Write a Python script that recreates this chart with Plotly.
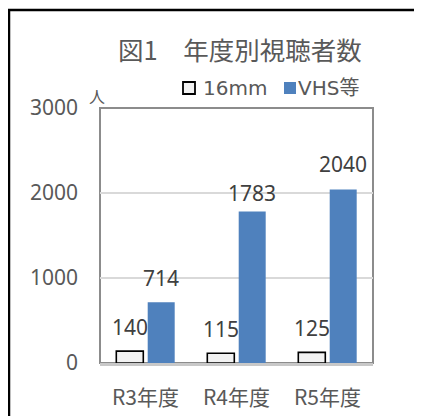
import plotly.graph_objects as go

categories = ["R3年度", "R4年度", "R5年度"]
series_names = ["16mm", "VHS等"]
values_16mm = [140, 115, 125]
values_vhs = [714, 1783, 2040]
y_ticks = [0, 1000, 2000, 3000]
title_text = "図1　年度別視聴者数"
unit_text = "人"

# layout (pixels, in screen coordinates of the 422x416 window)
OFF = 8  # default page body margin
W, H = 422 - OFF, 416 - OFF
PLOT_L, PLOT_R, PLOT_T, PLOT_B = 100, 373, 108, 363
ML, MT = PLOT_L - OFF, PLOT_T - OFF
MR, MB = 422 - PLOT_R, 416 - PLOT_B
PW, PH = PLOT_R - PLOT_L, PLOT_B - PLOT_T
BARGAP, GROUPGAP = 0.31, 0.14
GREY_TXT = "#595959"
NUM_FONT = "Noto Sans, Noto Sans CJK JP, sans-serif"
CJK_FONT = "Noto Sans CJK JP, Noto Sans, sans-serif"
LEG_FONT = "DejaVu Sans, Noto Sans CJK JP, sans-serif"
colors = ["#f2f2f2", "#4f81bd"]
line_colors = ["#000000", "#4f81bd"]
line_widths = [1.6, 0]
label_yshift = [[24, 24, 24], [24, 18, 26]]


def px_x(x):
    return (x - PLOT_L) / PW


def px_y(y):
    return (PLOT_B - y) / PH


fig = go.Figure()
all_vals = [values_16mm, values_vhs]
for i, (name, vals) in enumerate(zip(series_names, all_vals)):
    fig.add_trace(go.Bar(
        x=categories, y=vals, name=name,
        marker=dict(color=colors[i], line=dict(color=line_colors[i], width=line_widths[i])),
        showlegend=False, hoverinfo="skip",
    ))

# data labels
cat_px = PW / len(categories)
slot_px = cat_px * (1 - BARGAP) / len(series_names)
for i, vals in enumerate(all_vals):
    offset = (i - (len(series_names) - 1) / 2) * slot_px
    for j, (c, v) in enumerate(zip(categories, vals)):
        fig.add_annotation(
            x=c, y=v, xref="x", yref="y", text=str(v), showarrow=False,
            xshift=offset, yshift=label_yshift[i][j], xanchor="center", yanchor="middle",
            font=dict(family=NUM_FONT, size=21, color="#404040"),
        )

# legend (manual)
leg_items = [(183, 201), (284, 296)]
for i, (sx, tx) in enumerate(leg_items):
    fig.add_shape(type="rect", xref="paper", yref="paper",
                  x0=px_x(sx), x1=px_x(sx + 12), y0=px_y(94), y1=px_y(82),
                  fillcolor=colors[i], line=dict(color=line_colors[i], width=1.8 if i == 0 else 0))
    fig.add_annotation(x=px_x(tx), y=px_y(88), xref="paper", yref="paper",
                       text=series_names[i], showarrow=False, xanchor="left", yanchor="middle",
                       font=dict(family=LEG_FONT, size=20, color=GREY_TXT))

# unit label
fig.add_annotation(x=px_x(97), y=px_y(96), xref="paper", yref="paper", text=unit_text,
                   showarrow=False, xanchor="center", yanchor="middle",
                   font=dict(family=CJK_FONT, size=16, color=GREY_TXT))

# title
fig.add_annotation(x=px_x(240), y=px_y(49), xref="paper", yref="paper", text=title_text,
                   showarrow=False, xanchor="center", yanchor="middle",
                   font=dict(family=CJK_FONT, size=25.5, color=GREY_TXT))

# plot area border
fig.add_shape(type="rect", xref="paper", yref="paper", x0=0, x1=1, y0=0, y1=1,
              line=dict(color="#8c8c8c", width=2), layer="between")
# outer chart border
fig.add_shape(type="rect", xref="paper", yref="paper",
              x0=px_x(9), x1=px_x(450), y0=px_y(450), y1=px_y(10),
              line=dict(color="#000000", width=2.5), layer="above")

fig.update_layout(
    width=W, height=H,
    margin=dict(l=ML, r=MR, t=MT, b=MB, autoexpand=False),
    paper_bgcolor="white", plot_bgcolor="white",
    barmode="group", bargap=BARGAP, bargroupgap=GROUPGAP,
    showlegend=False,
)
fig.update_xaxes(
    showline=True, linecolor="#c8c8c8", linewidth=2.5, showgrid=False,
    tickfont=dict(family=CJK_FONT, size=21, color=GREY_TXT), ticklabelstandoff=14,
    automargin=False, fixedrange=True,
)
fig.update_yaxes(
    range=[0, 3000], tickvals=y_ticks, showgrid=True, gridcolor="#d9d9d9", gridwidth=1.5,
    zeroline=False, showline=False,
    tickfont=dict(family=NUM_FONT, size=21, color=GREY_TXT), ticklabelstandoff=21,
    automargin=False, fixedrange=True,
)

fig.write_html("out.html", config={"displayModeBar": False})
